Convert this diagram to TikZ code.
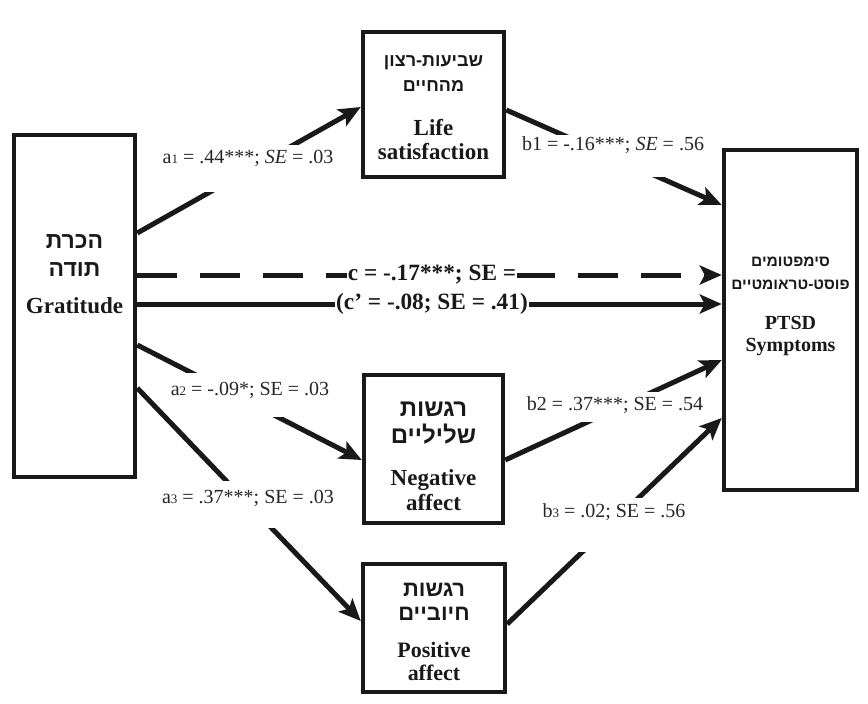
\documentclass[tikz,border=0pt]{standalone}
\usepackage{fontspec}
\setmainfont{Liberation Serif}
\newfontfamily\hebfont[Script=Hebrew]{Liberation Sans}
\TeXXeTstate=1
\usetikzlibrary{arrows.meta}
\newcommand\rl[1]{\beginR#1\endR}
\newcommand\fs[2]{\fontsize{#1}{#2}\selectfont}
\newcommand\smalldigit[1]{{\fontsize{13}{13}\selectfont #1}}
\begin{document}
\begin{tikzpicture}[x=1pt,y=-1pt,
  box/.style={draw=black!90, line width=4.5pt, inner sep=0pt},
  conn/.style={line width=5pt, draw=black!90, -{Stealth[length=22pt,width=19pt,inset=5pt]}},
  lab/.style={fill=white, inner sep=0pt, anchor=base, font=\fs{20}{22}, text=black!85},
  clab/.style={fill=white, inner xsep=1pt, inner ysep=0pt, font=\bfseries\fs{23.3}{25}, text=black!90},
  hebst/.style 2 args={align=center, inner sep=0pt, font=\hebfont\bfseries\fs{#1}{#2}, text=black!90},
  engst/.style 2 args={align=center, inner sep=0pt, font=\bfseries\fs{#1}{#2}, text=black!90},
]
\useasboundingbox (0,0) rectangle (868,704);
% boxes
\node[box, minimum width=121pt, minimum height=342pt] (G) at (74.5,306) {};
\node[box, minimum width=141pt, minimum height=145pt] (LS) at (433.5,104.5) {};
\node[box, minimum width=139pt, minimum height=148pt] (NA) at (433.5,449) {};
\node[box, minimum width=142pt, minimum height=128pt] (PA) at (434,628) {};
\node[box, minimum width=133pt, minimum height=340pt] (PT) at (790.5,320) {};
% box texts
\node[hebst={18}{25}] (LSh) at (433.5,74) {\rl{שביעות-רצון}\\\rl{מהחיים}};
\node[engst={23}{24}] (LSe) at (433.5,140) {Life\\satisfaction};
\node[hebst={23}{28}] (Gh) at (74.5,256) {\rl{הכרת}\\\rl{תודה}};
\node[engst={23}{25}] (Ge) at (74.5,306) {Gratitude};
\node[hebst={15.5}{23}] (PTh) at (790.5,273.5) {\rl{סימפטומים}\\\rl{פוסט-טראומטיים}};
\node[engst={20}{22}] (PTe) at (790.5,336) {PTSD\\Symptoms};
\node[hebst={24}{27}] (NAh) at (433.5,423.5) {\rl{רגשות}\\\rl{שליליים}};
\node[engst={23}{25}] (NAe) at (433.5,490) {Negative\\affect};
\node[hebst={22}{24}] (PAh) at (434,602) {\rl{רגשות}\\\rl{חיוביים}};
\node[engst={22}{23}] (PAe) at (434,661) {Positive\\affect};
% connectors
\draw[conn] (G.east |- 0,233) -- (LS.west |- 0,107);
\draw[conn] (LS.east |- 0,110) -- (PT.west |- 0,205);
\draw[conn, dash pattern=on 40pt off 23pt] (G.east |- 0,275) -- (PT.west |- 0,275);
\draw[conn] (G.east |- 0,304) -- (PT.west |- 0,304);
\draw[conn] (G.east |- 0,345) -- (NA.west |- 0,460);
\draw[conn] (G.east |- 0,388) -- (PA.west |- 0,621);
\draw[conn] (NA.east |- 0,460) -- (PT.west |- 0,360);
\draw[conn] (PA.east |- 0,624) -- (PT.west |- 0,418);
% labels
\node[lab, text height=18pt, text depth=29pt] (la1) at (248,163) {a\smalldigit{1} = .44***; \textit{SE} = .03};
\node[lab, text height=15pt, text depth=27pt] (lb1) at (613,150) {b1 = -.16***; \textit{SE} = .56};
\node[clab] (lc) at (432,275) {c = -.17***; SE =};
\node[clab] (lcp) at (432,304) {(c’ = -.08; SE = .41)};
\node[lab, text height=22pt, text depth=22pt] (la2) at (250,395) {a\smalldigit{2} = -.09*; SE = .03};
\node[lab, text height=18pt, text depth=12pt] (lb2) at (615,410) {b2 = .37***; SE = .54};
\node[lab, text height=22pt, text depth=25pt] (la3) at (248,503) {a\smalldigit{3} = .37***; SE = .03};
\node[lab, text height=19pt, text depth=35pt] (lb3) at (614,517) {b\smalldigit{3} = .02; SE = .56};
\end{tikzpicture}
\end{document}
